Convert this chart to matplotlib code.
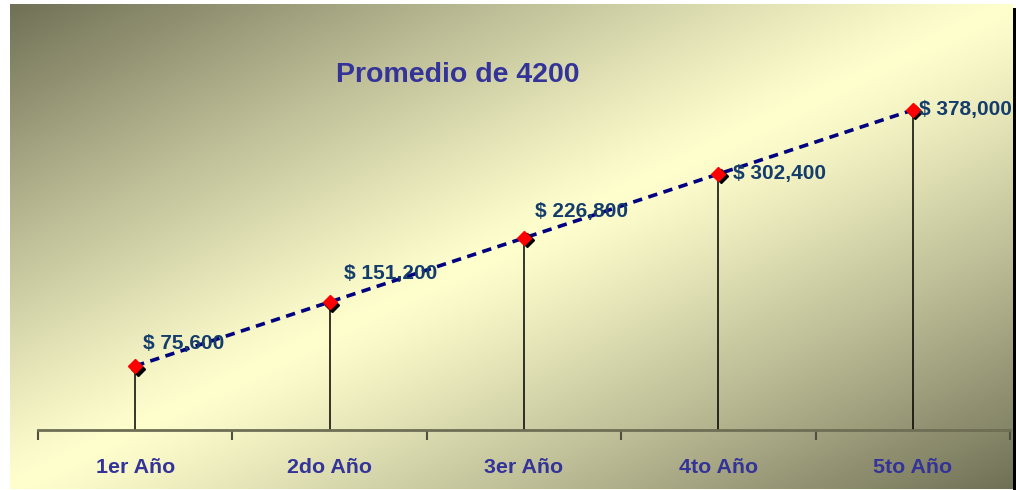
import numpy as np
import matplotlib
matplotlib.use('Agg')
import matplotlib.pyplot as plt
import matplotlib.transforms as mtransforms

# Data
# ----------------------------------------------
categories = ['1er Año', '2do Año', '3er Año', '4to Año', '5to Año']
values = [75600, 151200, 226800, 302400, 378000]
labels = ['$ 75,600', '$ 151,200', '$ 226,800', '$ 302,400', '$ 378,000']
title = 'Promedio de 4200'

W, H = 1016, 490
fig = plt.figure(figsize=(W / 100, H / 100), dpi=100)
fig.patch.set_facecolor('white')

# Background: diagonal gradient, dark corners, light band in the middle
# ----------------------------------------------
x0, x1, y0, y1 = 10, 1013, 4, 489
bg = fig.add_axes([x0 / W, 1 - y1 / H, (x1 - x0) / W, (y1 - y0) / H])
nx, ny = 400, 200
u = np.linspace(0, 1, nx)[None, :]
v = np.linspace(0, 1, ny)[:, None]
t = np.abs(u + v - 1.0) ** 1.15
dark = np.array([112, 112, 86]) / 255.
light = np.array([255, 255, 206]) / 255.
img = light[None, None, :] + (dark - light)[None, None, :] * t[:, :, None]
bg.imshow(img, aspect='auto', interpolation='bilinear', extent=[0, 1, 0, 1])
bg.axis('off')

# right black shadow
sh = fig.add_axes([x1 / W, 0, 3 / W, 1 - 8 / H])
sh.set_facecolor('black')
sh.set_xticks([])
sh.set_yticks([])
for s in sh.spines.values():
    s.set_visible(False)

# Main plot
# ----------------------------------------------
ax_left, ax_right, ax_top, ax_bottom = 38, 1010, 30, 430
ax = fig.add_axes([ax_left / W, 1 - ax_bottom / H,
                   (ax_right - ax_left) / W, (ax_bottom - ax_top) / H])
ax.patch.set_alpha(0)
xs = np.arange(len(categories))
ax.set_xlim(-0.5, len(categories) - 0.5)
ax.set_ylim(0, 75600 * 400 / 64.)

ax.vlines(xs, 0, values, color='black', lw=1.1, zorder=2)
ax.plot(xs, values, ls=(0, (2.6, 1.8)), color='#000080', lw=2.6, zorder=3)

shadow = mtransforms.offset_copy(ax.transData, fig=fig, x=2.5, y=-2.5, units='dots')
ax.plot(xs, values, 'D', color='black', ms=7, mec='black', transform=shadow, zorder=4)
ax.plot(xs, values, 'D', color='#FF0000', ms=7, mec='#FF0000', zorder=5)

# label offsets in pixels
offsets = [(8, 23), (14, 29), (11, 27), (15, 0), (6, 0)]
for x, val, lab, off in zip(xs, values, labels, offsets):
    ax.annotate(lab, (x, val), xytext=off, textcoords='offset pixels',
                ha='left', va='center', fontsize=15, fontweight='bold',
                color='#153D6C', family='Liberation Sans', zorder=6)

for s in ['top', 'right', 'left']:
    ax.spines[s].set_visible(False)
ax.spines['bottom'].set_color('#6E6E55')
ax.spines['bottom'].set_linewidth(2)
ax.set_yticks([])
ax.set_xticks(np.arange(-0.5, len(categories), 1.0))
ax.set_xticklabels([])
ax.set_xticks(xs, minor=True)
ax.set_xticklabels(categories, minor=True, fontsize=15.4, fontweight='bold',
                   color='#333399', family='Liberation Sans')
ax.tick_params(axis='x', which='major', direction='out', length=7, width=1.5,
               color='#505040')
ax.tick_params(axis='x', which='minor', length=0, pad=20)

fig.text(458 / W, 1 - 75 / H, title, ha='center', va='center', fontsize=20.5,
         fontweight='bold', color='#333399', family='Liberation Sans')

fig.savefig('out.png', dpi=100)
